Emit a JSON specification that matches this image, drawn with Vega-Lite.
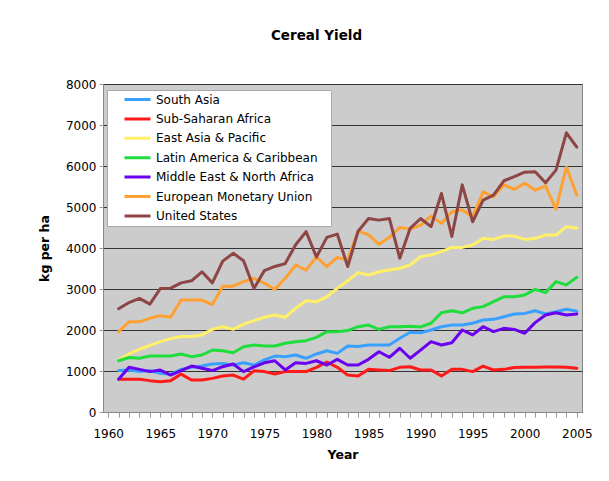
{
  "$schema": "https://vega.github.io/schema/vega-lite/v6.json",
  "width": 479,
  "height": 328,
  "autosize": {"type": "none"},
  "padding": {"left": 103, "top": 84, "right": 27, "bottom": 69},
  "background": "white",
  "config": {
    "font": "DejaVu Sans",
    "view": {"fill": "#CCCCCC", "stroke": "#888888", "strokeWidth": 1}
  },
  "title": {
    "text": "Cereal Yield",
    "fontSize": 13.5,
    "fontWeight": "bold",
    "color": "#000000",
    "anchor": "middle",
    "dx": -26,
    "offset": 36
  },
  "data": {
    "values": [
      {"year":1961,"region":"South Asia","value":1010},{"year":1962,"region":"South Asia","value":1025},{"year":1963,"region":"South Asia","value":985},{"year":1964,"region":"South Asia","value":1010},{"year":1965,"region":"South Asia","value":945},{"year":1966,"region":"South Asia","value":920},{"year":1967,"region":"South Asia","value":1040},{"year":1968,"region":"South Asia","value":1090},{"year":1969,"region":"South Asia","value":1120},{"year":1970,"region":"South Asia","value":1170},{"year":1971,"region":"South Asia","value":1185},{"year":1972,"region":"South Asia","value":1145},{"year":1973,"region":"South Asia","value":1200},{"year":1974,"region":"South Asia","value":1145},{"year":1975,"region":"South Asia","value":1270},{"year":1976,"region":"South Asia","value":1365},{"year":1977,"region":"South Asia","value":1350},{"year":1978,"region":"South Asia","value":1390},{"year":1979,"region":"South Asia","value":1310},{"year":1980,"region":"South Asia","value":1415},{"year":1981,"region":"South Asia","value":1495},{"year":1982,"region":"South Asia","value":1430},{"year":1983,"region":"South Asia","value":1610},{"year":1984,"region":"South Asia","value":1595},{"year":1985,"region":"South Asia","value":1635},{"year":1986,"region":"South Asia","value":1635},{"year":1987,"region":"South Asia","value":1635},{"year":1988,"region":"South Asia","value":1800},{"year":1989,"region":"South Asia","value":1945},{"year":1990,"region":"South Asia","value":1930},{"year":1991,"region":"South Asia","value":2000},{"year":1992,"region":"South Asia","value":2080},{"year":1993,"region":"South Asia","value":2120},{"year":1994,"region":"South Asia","value":2120},{"year":1995,"region":"South Asia","value":2165},{"year":1996,"region":"South Asia","value":2245},{"year":1997,"region":"South Asia","value":2260},{"year":1998,"region":"South Asia","value":2325},{"year":1999,"region":"South Asia","value":2390},{"year":2000,"region":"South Asia","value":2405},{"year":2001,"region":"South Asia","value":2470},{"year":2002,"region":"South Asia","value":2390},{"year":2003,"region":"South Asia","value":2445},{"year":2004,"region":"South Asia","value":2505},{"year":2005,"region":"South Asia","value":2460},
      {"year":1961,"region":"Sub-Saharan Africa","value":800},{"year":1962,"region":"Sub-Saharan Africa","value":800},{"year":1963,"region":"Sub-Saharan Africa","value":800},{"year":1964,"region":"Sub-Saharan Africa","value":765},{"year":1965,"region":"Sub-Saharan Africa","value":740},{"year":1966,"region":"Sub-Saharan Africa","value":765},{"year":1967,"region":"Sub-Saharan Africa","value":925},{"year":1968,"region":"Sub-Saharan Africa","value":780},{"year":1969,"region":"Sub-Saharan Africa","value":780},{"year":1970,"region":"Sub-Saharan Africa","value":820},{"year":1971,"region":"Sub-Saharan Africa","value":880},{"year":1972,"region":"Sub-Saharan Africa","value":900},{"year":1973,"region":"Sub-Saharan Africa","value":800},{"year":1974,"region":"Sub-Saharan Africa","value":1005},{"year":1975,"region":"Sub-Saharan Africa","value":985},{"year":1976,"region":"Sub-Saharan Africa","value":925},{"year":1977,"region":"Sub-Saharan Africa","value":985},{"year":1978,"region":"Sub-Saharan Africa","value":985},{"year":1979,"region":"Sub-Saharan Africa","value":985},{"year":1980,"region":"Sub-Saharan Africa","value":1090},{"year":1981,"region":"Sub-Saharan Africa","value":1220},{"year":1982,"region":"Sub-Saharan Africa","value":1090},{"year":1983,"region":"Sub-Saharan Africa","value":900},{"year":1984,"region":"Sub-Saharan Africa","value":880},{"year":1985,"region":"Sub-Saharan Africa","value":1040},{"year":1986,"region":"Sub-Saharan Africa","value":1025},{"year":1987,"region":"Sub-Saharan Africa","value":1010},{"year":1988,"region":"Sub-Saharan Africa","value":1090},{"year":1989,"region":"Sub-Saharan Africa","value":1105},{"year":1990,"region":"Sub-Saharan Africa","value":1025},{"year":1991,"region":"Sub-Saharan Africa","value":1025},{"year":1992,"region":"Sub-Saharan Africa","value":880},{"year":1993,"region":"Sub-Saharan Africa","value":1040},{"year":1994,"region":"Sub-Saharan Africa","value":1040},{"year":1995,"region":"Sub-Saharan Africa","value":985},{"year":1996,"region":"Sub-Saharan Africa","value":1120},{"year":1997,"region":"Sub-Saharan Africa","value":1025},{"year":1998,"region":"Sub-Saharan Africa","value":1040},{"year":1999,"region":"Sub-Saharan Africa","value":1085},{"year":2000,"region":"Sub-Saharan Africa","value":1090},{"year":2001,"region":"Sub-Saharan Africa","value":1090},{"year":2002,"region":"Sub-Saharan Africa","value":1095},{"year":2003,"region":"Sub-Saharan Africa","value":1095},{"year":2004,"region":"Sub-Saharan Africa","value":1090},{"year":2005,"region":"Sub-Saharan Africa","value":1065},
      {"year":1961,"region":"East Asia & Pacific","value":1270},{"year":1962,"region":"East Asia & Pacific","value":1415},{"year":1963,"region":"East Asia & Pacific","value":1530},{"year":1964,"region":"East Asia & Pacific","value":1625},{"year":1965,"region":"East Asia & Pacific","value":1715},{"year":1966,"region":"East Asia & Pacific","value":1790},{"year":1967,"region":"East Asia & Pacific","value":1840},{"year":1968,"region":"East Asia & Pacific","value":1840},{"year":1969,"region":"East Asia & Pacific","value":1880},{"year":1970,"region":"East Asia & Pacific","value":2015},{"year":1971,"region":"East Asia & Pacific","value":2080},{"year":1972,"region":"East Asia & Pacific","value":2015},{"year":1973,"region":"East Asia & Pacific","value":2145},{"year":1974,"region":"East Asia & Pacific","value":2230},{"year":1975,"region":"East Asia & Pacific","value":2310},{"year":1976,"region":"East Asia & Pacific","value":2365},{"year":1977,"region":"East Asia & Pacific","value":2310},{"year":1978,"region":"East Asia & Pacific","value":2530},{"year":1979,"region":"East Asia & Pacific","value":2715},{"year":1980,"region":"East Asia & Pacific","value":2690},{"year":1981,"region":"East Asia & Pacific","value":2810},{"year":1982,"region":"East Asia & Pacific","value":3015},{"year":1983,"region":"East Asia & Pacific","value":3200},{"year":1984,"region":"East Asia & Pacific","value":3400},{"year":1985,"region":"East Asia & Pacific","value":3340},{"year":1986,"region":"East Asia & Pacific","value":3420},{"year":1987,"region":"East Asia & Pacific","value":3465},{"year":1988,"region":"East Asia & Pacific","value":3505},{"year":1989,"region":"East Asia & Pacific","value":3585},{"year":1990,"region":"East Asia & Pacific","value":3790},{"year":1991,"region":"East Asia & Pacific","value":3830},{"year":1992,"region":"East Asia & Pacific","value":3910},{"year":1993,"region":"East Asia & Pacific","value":4015},{"year":1994,"region":"East Asia & Pacific","value":4015},{"year":1995,"region":"East Asia & Pacific","value":4075},{"year":1996,"region":"East Asia & Pacific","value":4235},{"year":1997,"region":"East Asia & Pacific","value":4210},{"year":1998,"region":"East Asia & Pacific","value":4290},{"year":1999,"region":"East Asia & Pacific","value":4290},{"year":2000,"region":"East Asia & Pacific","value":4210},{"year":2001,"region":"East Asia & Pacific","value":4235},{"year":2002,"region":"East Asia & Pacific","value":4315},{"year":2003,"region":"East Asia & Pacific","value":4315},{"year":2004,"region":"East Asia & Pacific","value":4520},{"year":2005,"region":"East Asia & Pacific","value":4480},
      {"year":1961,"region":"Latin America & Caribbean","value":1250},{"year":1962,"region":"Latin America & Caribbean","value":1330},{"year":1963,"region":"Latin America & Caribbean","value":1310},{"year":1964,"region":"Latin America & Caribbean","value":1365},{"year":1965,"region":"Latin America & Caribbean","value":1365},{"year":1966,"region":"Latin America & Caribbean","value":1365},{"year":1967,"region":"Latin America & Caribbean","value":1415},{"year":1968,"region":"Latin America & Caribbean","value":1350},{"year":1969,"region":"Latin America & Caribbean","value":1390},{"year":1970,"region":"Latin America & Caribbean","value":1510},{"year":1971,"region":"Latin America & Caribbean","value":1495},{"year":1972,"region":"Latin America & Caribbean","value":1445},{"year":1973,"region":"Latin America & Caribbean","value":1590},{"year":1974,"region":"Latin America & Caribbean","value":1635},{"year":1975,"region":"Latin America & Caribbean","value":1610},{"year":1976,"region":"Latin America & Caribbean","value":1610},{"year":1977,"region":"Latin America & Caribbean","value":1675},{"year":1978,"region":"Latin America & Caribbean","value":1715},{"year":1979,"region":"Latin America & Caribbean","value":1740},{"year":1980,"region":"Latin America & Caribbean","value":1820},{"year":1981,"region":"Latin America & Caribbean","value":1960},{"year":1982,"region":"Latin America & Caribbean","value":1960},{"year":1983,"region":"Latin America & Caribbean","value":1985},{"year":1984,"region":"Latin America & Caribbean","value":2080},{"year":1985,"region":"Latin America & Caribbean","value":2120},{"year":1986,"region":"Latin America & Caribbean","value":2015},{"year":1987,"region":"Latin America & Caribbean","value":2080},{"year":1988,"region":"Latin America & Caribbean","value":2080},{"year":1989,"region":"Latin America & Caribbean","value":2090},{"year":1990,"region":"Latin America & Caribbean","value":2075},{"year":1991,"region":"Latin America & Caribbean","value":2165},{"year":1992,"region":"Latin America & Caribbean","value":2420},{"year":1993,"region":"Latin America & Caribbean","value":2470},{"year":1994,"region":"Latin America & Caribbean","value":2420},{"year":1995,"region":"Latin America & Caribbean","value":2530},{"year":1996,"region":"Latin America & Caribbean","value":2570},{"year":1997,"region":"Latin America & Caribbean","value":2690},{"year":1998,"region":"Latin America & Caribbean","value":2810},{"year":1999,"region":"Latin America & Caribbean","value":2810},{"year":2000,"region":"Latin America & Caribbean","value":2855},{"year":2001,"region":"Latin America & Caribbean","value":2990},{"year":2002,"region":"Latin America & Caribbean","value":2910},{"year":2003,"region":"Latin America & Caribbean","value":3180},{"year":2004,"region":"Latin America & Caribbean","value":3100},{"year":2005,"region":"Latin America & Caribbean","value":3285},
      {"year":1961,"region":"Middle East & North Africa","value":800},{"year":1962,"region":"Middle East & North Africa","value":1090},{"year":1963,"region":"Middle East & North Africa","value":1040},{"year":1964,"region":"Middle East & North Africa","value":985},{"year":1965,"region":"Middle East & North Africa","value":1025},{"year":1966,"region":"Middle East & North Africa","value":900},{"year":1967,"region":"Middle East & North Africa","value":1010},{"year":1968,"region":"Middle East & North Africa","value":1120},{"year":1969,"region":"Middle East & North Africa","value":1065},{"year":1970,"region":"Middle East & North Africa","value":1010},{"year":1971,"region":"Middle East & North Africa","value":1105},{"year":1972,"region":"Middle East & North Africa","value":1170},{"year":1973,"region":"Middle East & North Africa","value":985},{"year":1974,"region":"Middle East & North Africa","value":1100},{"year":1975,"region":"Middle East & North Africa","value":1200},{"year":1976,"region":"Middle East & North Africa","value":1250},{"year":1977,"region":"Middle East & North Africa","value":1025},{"year":1978,"region":"Middle East & North Africa","value":1200},{"year":1979,"region":"Middle East & North Africa","value":1185},{"year":1980,"region":"Middle East & North Africa","value":1250},{"year":1981,"region":"Middle East & North Africa","value":1145},{"year":1982,"region":"Middle East & North Africa","value":1285},{"year":1983,"region":"Middle East & North Africa","value":1145},{"year":1984,"region":"Middle East & North Africa","value":1145},{"year":1985,"region":"Middle East & North Africa","value":1285},{"year":1986,"region":"Middle East & North Africa","value":1470},{"year":1987,"region":"Middle East & North Africa","value":1335},{"year":1988,"region":"Middle East & North Africa","value":1555},{"year":1989,"region":"Middle East & North Africa","value":1310},{"year":1990,"region":"Middle East & North Africa","value":1510},{"year":1991,"region":"Middle East & North Africa","value":1715},{"year":1992,"region":"Middle East & North Africa","value":1635},{"year":1993,"region":"Middle East & North Africa","value":1690},{"year":1994,"region":"Middle East & North Africa","value":2000},{"year":1995,"region":"Middle East & North Africa","value":1880},{"year":1996,"region":"Middle East & North Africa","value":2080},{"year":1997,"region":"Middle East & North Africa","value":1960},{"year":1998,"region":"Middle East & North Africa","value":2040},{"year":1999,"region":"Middle East & North Africa","value":2015},{"year":2000,"region":"Middle East & North Africa","value":1920},{"year":2001,"region":"Middle East & North Africa","value":2180},{"year":2002,"region":"Middle East & North Africa","value":2365},{"year":2003,"region":"Middle East & North Africa","value":2420},{"year":2004,"region":"Middle East & North Africa","value":2365},{"year":2005,"region":"Middle East & North Africa","value":2390},
      {"year":1961,"region":"European Monetary Union","value":1960},{"year":1962,"region":"European Monetary Union","value":2200},{"year":1963,"region":"European Monetary Union","value":2200},{"year":1964,"region":"European Monetary Union","value":2285},{"year":1965,"region":"European Monetary Union","value":2350},{"year":1966,"region":"European Monetary Union","value":2310},{"year":1967,"region":"European Monetary Union","value":2730},{"year":1968,"region":"European Monetary Union","value":2730},{"year":1969,"region":"European Monetary Union","value":2730},{"year":1970,"region":"European Monetary Union","value":2620},{"year":1971,"region":"European Monetary Union","value":3070},{"year":1972,"region":"European Monetary Union","value":3070},{"year":1973,"region":"European Monetary Union","value":3180},{"year":1974,"region":"European Monetary Union","value":3260},{"year":1975,"region":"European Monetary Union","value":3140},{"year":1976,"region":"European Monetary Union","value":2990},{"year":1977,"region":"European Monetary Union","value":3260},{"year":1978,"region":"European Monetary Union","value":3585},{"year":1979,"region":"European Monetary Union","value":3460},{"year":1980,"region":"European Monetary Union","value":3780},{"year":1981,"region":"European Monetary Union","value":3545},{"year":1982,"region":"European Monetary Union","value":3770},{"year":1983,"region":"European Monetary Union","value":3710},{"year":1984,"region":"European Monetary Union","value":4420},{"year":1985,"region":"European Monetary Union","value":4320},{"year":1986,"region":"European Monetary Union","value":4090},{"year":1987,"region":"European Monetary Union","value":4260},{"year":1988,"region":"European Monetary Union","value":4500},{"year":1989,"region":"European Monetary Union","value":4460},{"year":1990,"region":"European Monetary Union","value":4560},{"year":1991,"region":"European Monetary Union","value":4780},{"year":1992,"region":"European Monetary Union","value":4600},{"year":1993,"region":"European Monetary Union","value":4885},{"year":1994,"region":"European Monetary Union","value":4930},{"year":1995,"region":"European Monetary Union","value":4765},{"year":1996,"region":"European Monetary Union","value":5370},{"year":1997,"region":"European Monetary Union","value":5250},{"year":1998,"region":"European Monetary Union","value":5540},{"year":1999,"region":"European Monetary Union","value":5430},{"year":2000,"region":"European Monetary Union","value":5580},{"year":2001,"region":"European Monetary Union","value":5410},{"year":2002,"region":"European Monetary Union","value":5510},{"year":2003,"region":"European Monetary Union","value":4945},{"year":2004,"region":"European Monetary Union","value":5970},{"year":2005,"region":"European Monetary Union","value":5290},
      {"year":1961,"region":"United States","value":2520},{"year":1962,"region":"United States","value":2670},{"year":1963,"region":"United States","value":2770},{"year":1964,"region":"United States","value":2630},{"year":1965,"region":"United States","value":3010},{"year":1966,"region":"United States","value":3020},{"year":1967,"region":"United States","value":3150},{"year":1968,"region":"United States","value":3200},{"year":1969,"region":"United States","value":3420},{"year":1970,"region":"United States","value":3150},{"year":1971,"region":"United States","value":3680},{"year":1972,"region":"United States","value":3870},{"year":1973,"region":"United States","value":3690},{"year":1974,"region":"United States","value":3010},{"year":1975,"region":"United States","value":3450},{"year":1976,"region":"United States","value":3550},{"year":1977,"region":"United States","value":3620},{"year":1978,"region":"United States","value":4080},{"year":1979,"region":"United States","value":4400},{"year":1980,"region":"United States","value":3780},{"year":1981,"region":"United States","value":4260},{"year":1982,"region":"United States","value":4340},{"year":1983,"region":"United States","value":3545},{"year":1984,"region":"United States","value":4410},{"year":1985,"region":"United States","value":4720},{"year":1986,"region":"United States","value":4680},{"year":1987,"region":"United States","value":4720},{"year":1988,"region":"United States","value":3750},{"year":1989,"region":"United States","value":4480},{"year":1990,"region":"United States","value":4720},{"year":1991,"region":"United States","value":4520},{"year":1992,"region":"United States","value":5330},{"year":1993,"region":"United States","value":4280},{"year":1994,"region":"United States","value":5540},{"year":1995,"region":"United States","value":4640},{"year":1996,"region":"United States","value":5170},{"year":1997,"region":"United States","value":5290},{"year":1998,"region":"United States","value":5640},{"year":1999,"region":"United States","value":5740},{"year":2000,"region":"United States","value":5850},{"year":2001,"region":"United States","value":5860},{"year":2002,"region":"United States","value":5590},{"year":2003,"region":"United States","value":5900},{"year":2004,"region":"United States","value":6810},{"year":2005,"region":"United States","value":6460}
    ]
  },
  "mark": {"type": "line", "strokeWidth": 3, "strokeJoin": "round", "strokeCap": "round"},
  "encoding": {
    "x": {
      "field": "year",
      "type": "quantitative",
      "scale": {"domain": [1959.5, 2005.5], "nice": false, "zero": false},
      "axis": {
        "title": "Year",
        "titleFontSize": 12.5,
        "titleFontWeight": "bold",
        "titleColor": "#000000",
        "titlePadding": 9,
        "values": [1960,1961,1962,1963,1964,1965,1966,1967,1968,1969,1970,1971,1972,1973,1974,1975,1976,1977,1978,1979,1980,1981,1982,1983,1984,1985,1986,1987,1988,1989,1990,1991,1992,1993,1994,1995,1996,1997,1998,1999,2000,2001,2002,2003,2004,2005],
        "labelExpr": "datum.value % 5 == 0 ? datum.label : ''",
        "format": "d",
        "labelFontSize": 12,
        "labelColor": "#000000",
        "labelPadding": 11,
        "labelOverlap": false,
        "labelFlush": false,
        "tickSize": 5,
        "tickColor": "#999999",
        "domainColor": "#888888",
        "grid": false
      }
    },
    "y": {
      "field": "value",
      "type": "quantitative",
      "scale": {"domain": [0, 8000], "nice": false},
      "axis": {
        "title": "kg per ha",
        "titleFontSize": 12.5,
        "titleFontWeight": "bold",
        "titleColor": "#000000",
        "titlePadding": 14,
        "values": [0,1000,2000,3000,4000,5000,6000,7000,8000],
        "format": "d",
        "labelFontSize": 12,
        "labelColor": "#000000",
        "labelPadding": 3,
        "tickSize": 4,
        "tickColor": "#999999",
        "domainColor": "#888888",
        "grid": true,
        "gridColor": "#333333",
        "gridWidth": 1
      }
    },
    "color": {
      "field": "region",
      "type": "nominal",
      "sort": ["South Asia","Sub-Saharan Africa","East Asia & Pacific","Latin America & Caribbean","Middle East & North Africa","European Monetary Union","United States"],
      "scale": {
        "domain": ["South Asia","Sub-Saharan Africa","East Asia & Pacific","Latin America & Caribbean","Middle East & North Africa","European Monetary Union","United States"],
        "range": ["#3AA0FF","#FF1A1A","#FFF066","#1EDD3C","#6A00F0","#FFA033","#8E4545"]
      },
      "legend": {
        "orient": "none",
        "legendX": 4,
        "legendY": 6,
        "title": "  ",
        "titleOrient": "right",
        "titlePadding": 12,
        "titleFontSize": 12,
        "fillColor": "#FFFFFF",
        "strokeColor": "#AAAAAA",
        "padding": 1,
        "symbolType": "stroke",
        "symbolSize": 676,
        "symbolStrokeWidth": 3,
        "symbolOffset": 15,
        "clipHeight": 17,
        "rowPadding": 2.4,
        "labelFontSize": 12,
        "labelColor": "#000000",
        "labelOffset": 4,
        "labelLimit": 300
      }
    }
  }
}
